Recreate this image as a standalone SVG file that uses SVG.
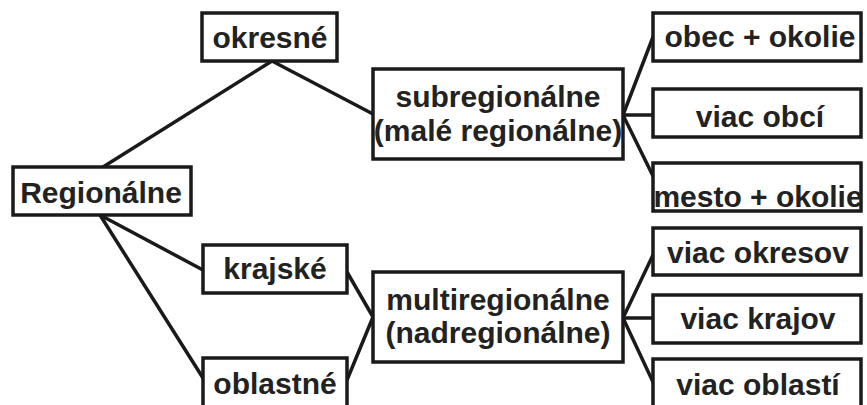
<svg xmlns="http://www.w3.org/2000/svg" width="867" height="405" viewBox="0 0 867 405">
<style>
.box{fill:#fff;stroke:#1a1a1a;stroke-width:3.5}
.t{font-family:"Liberation Sans",Arial,sans-serif;font-weight:bold;font-size:30px;fill:#222;text-anchor:middle}
.c{fill:none;stroke:#1a1a1a;stroke-width:3.5;stroke-linecap:round}
</style>
<rect width="867" height="405" fill="#fff"/>
<g id="connectors">
<line class="c" x1="272" y1="61" x2="103" y2="167"/>
<line class="c" x1="272" y1="61" x2="373" y2="114"/>
<line class="c" x1="100" y1="215" x2="203" y2="270"/>
<line class="c" x1="100" y1="215" x2="203" y2="378"/>
<line class="c" x1="347" y1="272" x2="373" y2="317"/>
<line class="c" x1="347" y1="380" x2="373" y2="317"/>
<line class="c" x1="623" y1="115" x2="653" y2="37"/>
<line class="c" x1="623" y1="115" x2="653" y2="115"/>
<line class="c" x1="623" y1="115" x2="653" y2="176"/>
<line class="c" x1="623" y1="318" x2="653" y2="255"/>
<line class="c" x1="623" y1="318" x2="653" y2="318"/>
<line class="c" x1="623" y1="318" x2="653" y2="382"/>
</g>
<g id="regionalne"><rect class="box" x="13" y="167" width="178" height="48"/><text class="t" x="101" y="203">Regionálne</text></g>
<g id="okresne"><rect class="box" x="202" y="13" width="135" height="48"/><text class="t" x="270" y="48">okresné</text></g>
<g id="krajske"><rect class="box" x="203" y="245" width="144" height="48"/><text class="t" x="275" y="279">krajské</text></g>
<g id="oblastne"><rect class="box" x="203" y="358" width="144" height="60"/><text class="t" x="275" y="394">oblastné</text></g>
<g id="subregionalne"><rect class="box" x="373" y="69" width="250" height="90"/><text class="t" x="498" y="107">subregionálne</text><text class="t" x="498" y="141">(malé regionálne)</text></g>
<g id="multiregionalne"><rect class="box" x="373" y="272" width="250" height="90"/><text class="t" x="498" y="310">multiregionálne</text><text class="t" x="498" y="343">(nadregionálne)</text></g>
<g id="obec-okolie"><rect class="box" x="653" y="13" width="208" height="48"/><text class="t" x="760" y="47">obec + okolie</text></g>
<g id="viac-obci"><rect class="box" x="653" y="89" width="208" height="48"/><text class="t" x="760" y="127">viac obcí</text></g>
<g id="mesto-okolie"><rect class="box" x="653" y="163" width="208" height="48"/><text class="t" x="758" y="207">mesto + okolie</text></g>
<g id="viac-okresov"><rect class="box" x="653" y="228" width="208" height="47"/><text class="t" x="758" y="263">viac okresov</text></g>
<g id="viac-krajov"><rect class="box" x="653" y="295" width="208" height="48"/><text class="t" x="758" y="329">viac krajov</text></g>
<g id="viac-oblasti"><rect class="box" x="653" y="359" width="208" height="60"/><text class="t" x="758" y="395">viac oblastí</text></g>
</svg>
